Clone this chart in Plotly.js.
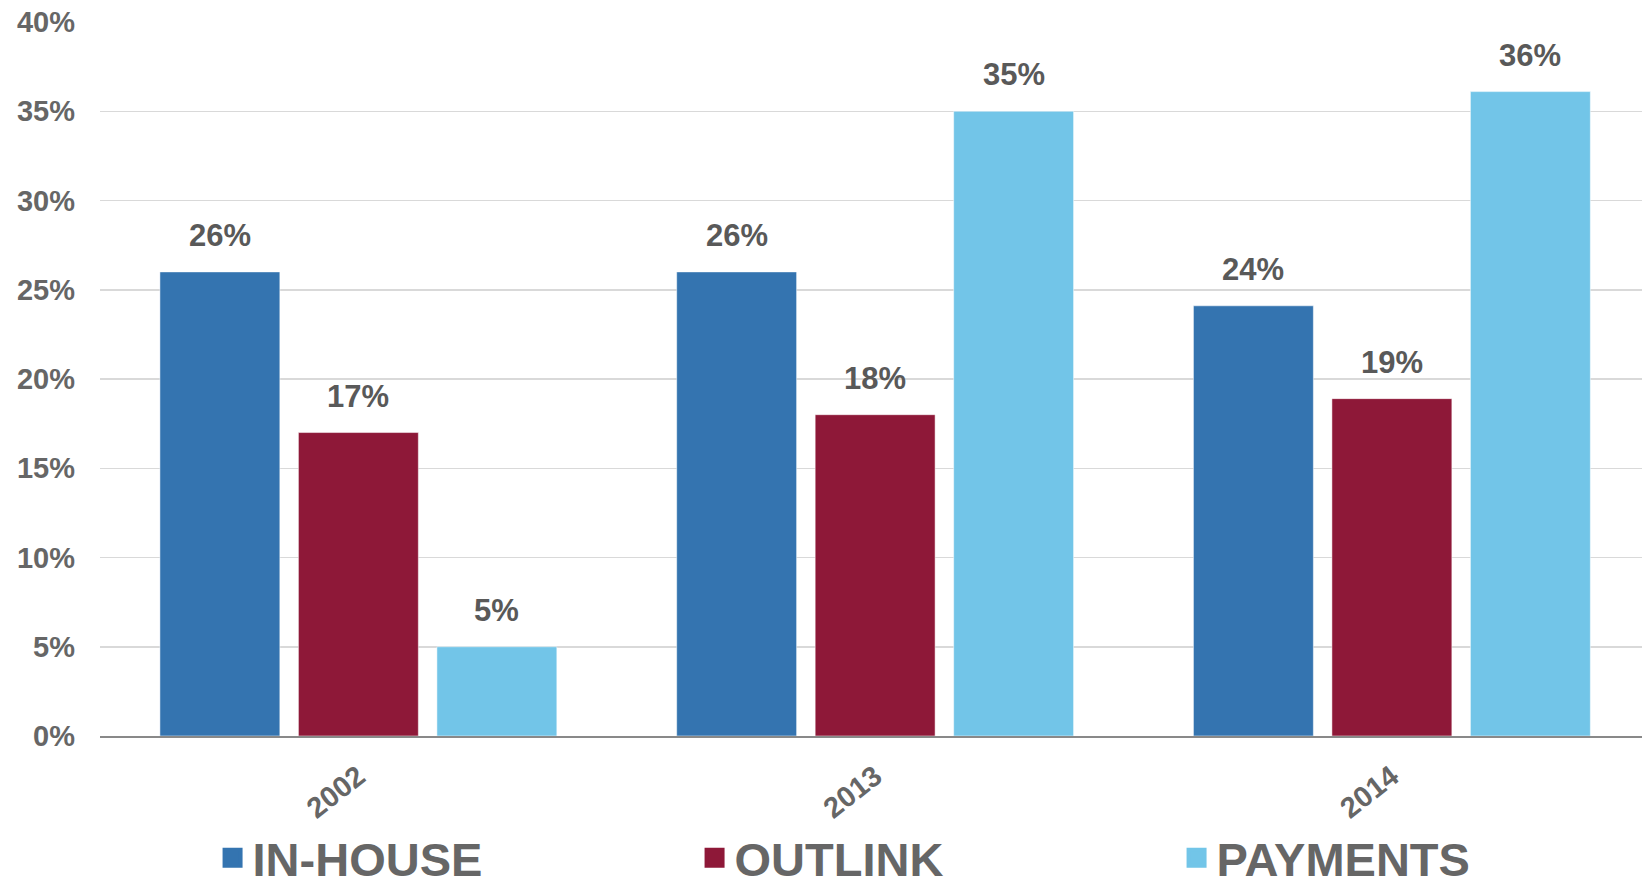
<!DOCTYPE html>
<html>
<head>
<meta charset="utf-8">
<script src="https://cdn.plot.ly/plotly-3.0.1.min.js"></script>
<style>
html,body{margin:0;padding:0;background:#fff;}
#chart{width:1642px;height:887px;}
</style>
</head>
<body>
<div id="chart"></div>
<script>
// ---- data ----
var categories = ["2002", "2013", "2014"];
var seriesNames = ["IN-HOUSE", "OUTLINK", "PAYMENTS"];
var inHouse  = [26, 26, 24.1];
var outlink  = [17, 18, 18.9];
var payments = [5, 35, 36.1];
var seriesColors = ["#3474B0", "#8E1838", "#72C5E8"];
var yTicks = [0, 5, 10, 15, 20, 25, 30, 35, 40];

var allSeries = [inHouse, outlink, payments];
var FONT = "'Liberation Sans', Arial, sans-serif";
var bargap = 0.196, bargroupgap = 0.134;

var traces = [];
allSeries.forEach(function (vals, i) {
  traces.push({
    type: "bar",
    name: seriesNames[i],
    x: categories,
    y: vals,
    marker: { color: seriesColors[i], line: { width: 1, color: "rgba(255,255,255,0.5)" } },
    showlegend: false,
    hoverinfo: "x+y"
  });
});
// legend entries (larger square symbols)
allSeries.forEach(function (vals, i) {
  traces.push({
    type: "scatter",
    mode: "markers",
    name: seriesNames[i],
    x: [null], y: [null],
    marker: { symbol: "square", size: 16, color: seriesColors[i], line: { width: 4, color: seriesColors[i] } },
    showlegend: true
  });
});

// data labels above bars
var slot = (1 - bargap) / allSeries.length;
var annotations = [];
allSeries.forEach(function (vals, i) {
  vals.forEach(function (v, j) {
    annotations.push({
      x: j + (i - (allSeries.length - 1) / 2) * slot,
      y: v,
      xref: "x", yref: "y",
      text: Math.round(v) + "%",
      showarrow: false,
      yanchor: "bottom",
      yshift: 17,
      font: { family: FONT, size: 31, color: "#595959", weight: "bold" }
    });
  });
});

var layout = {
  width: 1642, height: 887,
  margin: { l: 100, r: 0, t: 22, b: 151, autoexpand: false },
  paper_bgcolor: "#fff", plot_bgcolor: "#fff",
  barmode: "group",
  bargap: bargap,
  bargroupgap: bargroupgap,
  font: { family: FONT, color: "#666666" },
  xaxis: {
    type: "category",
    range: [-0.5, 2.484],
    showgrid: false,
    showline: true, linecolor: "#898989", linewidth: 2,
    ticks: "",
    tickangle: -38,
    ticklabelstandoff: 10,
    tickfont: { family: FONT, size: 29, color: "#666666", weight: "bold" },
    fixedrange: true
  },
  yaxis: {
    range: [0, 40],
    tickvals: yTicks,
    ticktext: yTicks.map(function (t) { return t + "%"; }),
    showgrid: true, gridcolor: "#D9D9D9", gridwidth: 1.5,
    zeroline: false,
    showline: false,
    ticks: "",
    ticklabelstandoff: 24,
    tickfont: { family: FONT, size: 29, color: "#666666", weight: "bold" },
    fixedrange: true
  },
  showlegend: true,
  legend: {
    orientation: "h",
    x: 0.073, xanchor: "left",
    y: -0.171, yanchor: "middle",
    entrywidth: 437, entrywidthmode: "pixels",
    font: { family: FONT, size: 47, color: "#666666", weight: "bold" },
    bgcolor: "rgba(0,0,0,0)"
  },
  annotations: annotations
};

Plotly.newPlot("chart", traces, layout, { displayModeBar: false, staticPlot: true });
</script>
</body>
</html>
